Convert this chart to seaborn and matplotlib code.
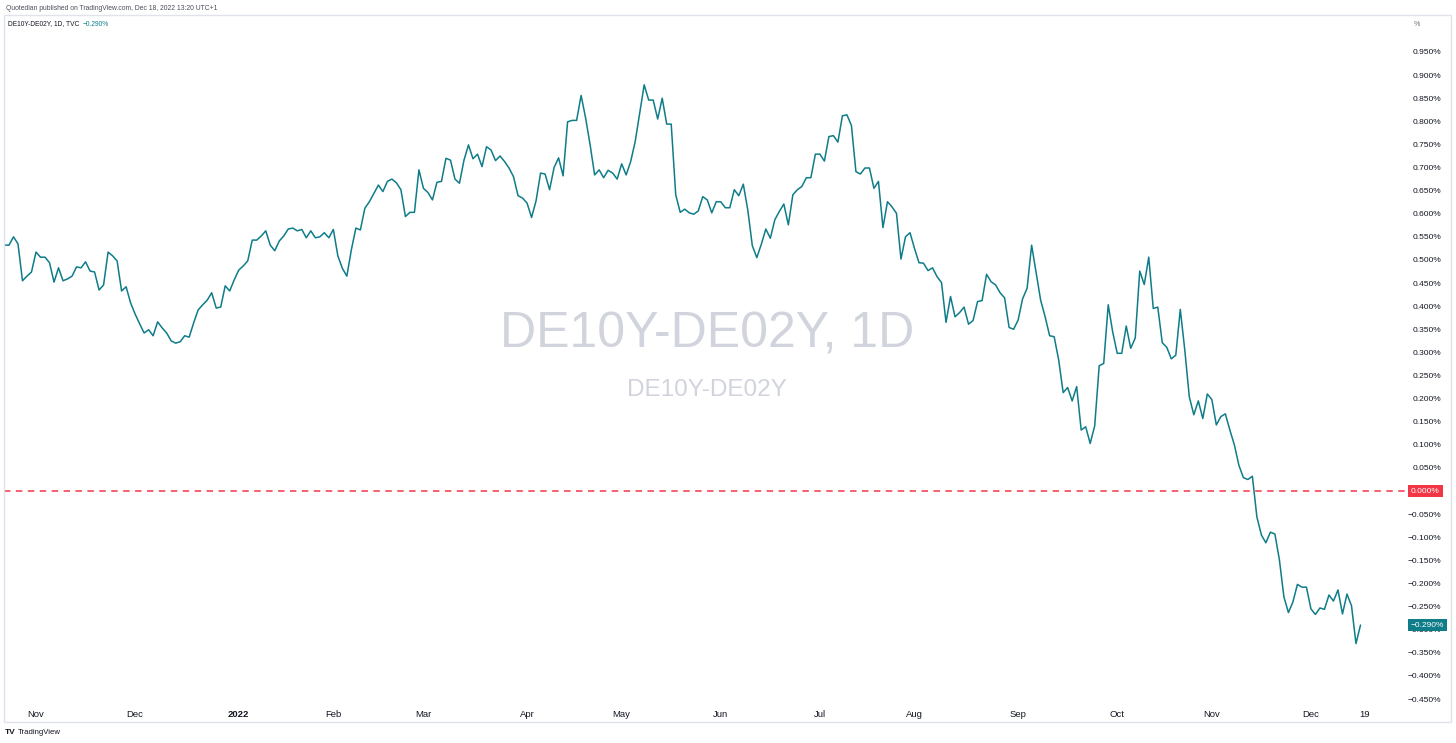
import numpy as np
import pandas as pd
import matplotlib
matplotlib.use("Agg")
import matplotlib.pyplot as plt
import matplotlib.transforms as mtransforms
from matplotlib.patches import Rectangle
import seaborn as sns

# ---------------- data ----------------
start_date = "2021-10-21"
spread_q4_2021 = [
    0.532, 0.532, 0.550, 0.535, 0.455, 0.465, 0.474, 0.517, 0.506, 0.506,
    0.494, 0.452, 0.483, 0.455, 0.459, 0.465, 0.485, 0.483, 0.496, 0.476,
    0.474, 0.435, 0.446, 0.517, 0.509, 0.498, 0.433, 0.442, 0.407, 0.383,
    0.362, 0.342, 0.349, 0.336, 0.366, 0.353, 0.342, 0.325, 0.320, 0.323,
    0.336, 0.333, 0.364, 0.392, 0.403, 0.413, 0.429, 0.396, 0.398, 0.444,
    0.433, 0.457]
spread_h1_2022 = [
    0.478, 0.487, 0.498, 0.543, 0.543, 0.552, 0.563, 0.532, 0.520, 0.541,
    0.552, 0.567, 0.569, 0.563, 0.566, 0.548, 0.563, 0.548, 0.550, 0.559,
    0.548, 0.566, 0.509, 0.482, 0.465, 0.522, 0.569, 0.565, 0.612, 0.626,
    0.644, 0.662, 0.648, 0.670, 0.675, 0.667, 0.652, 0.594, 0.603, 0.603,
    0.695, 0.655, 0.646, 0.630, 0.668, 0.670, 0.720, 0.716, 0.675, 0.666,
    0.716, 0.749, 0.719, 0.729, 0.702, 0.745, 0.738, 0.715, 0.725, 0.713,
    0.699, 0.680, 0.639, 0.634, 0.623, 0.592, 0.628, 0.688, 0.686, 0.652,
    0.700, 0.721, 0.682, 0.799, 0.802, 0.802, 0.856, 0.807, 0.749, 0.684,
    0.695, 0.678, 0.694, 0.688, 0.675, 0.708, 0.684, 0.713, 0.756, 0.818,
    0.879, 0.846, 0.846, 0.805, 0.850, 0.794, 0.794, 0.641, 0.603, 0.610,
    0.602, 0.599, 0.606, 0.637, 0.630, 0.602, 0.626, 0.626, 0.613, 0.613,
    0.652, 0.639, 0.664, 0.608, 0.531, 0.505, 0.534, 0.567, 0.547, 0.587,
    0.605, 0.621, 0.576, 0.641, 0.652, 0.659, 0.678, 0.678, 0.729]
spread_h2_2022 = [
    0.729, 0.714, 0.767, 0.769, 0.755, 0.812, 0.814, 0.791, 0.691, 0.686,
    0.699, 0.699, 0.655, 0.670, 0.570, 0.626, 0.615, 0.601, 0.502, 0.550,
    0.559, 0.525, 0.494, 0.493, 0.477, 0.483, 0.464, 0.451, 0.365, 0.421,
    0.377, 0.386, 0.398, 0.361, 0.369, 0.410, 0.412, 0.469, 0.453, 0.446,
    0.429, 0.418, 0.354, 0.350, 0.370, 0.416, 0.439, 0.532, 0.473, 0.413,
    0.377, 0.336, 0.334, 0.284, 0.213, 0.224, 0.195, 0.226, 0.132, 0.139,
    0.103, 0.141, 0.271, 0.276, 0.403, 0.344, 0.298, 0.298, 0.357, 0.309,
    0.331, 0.476, 0.447, 0.506, 0.395, 0.398, 0.321, 0.311, 0.286, 0.294,
    0.393, 0.305, 0.204, 0.165, 0.195, 0.157, 0.210, 0.198, 0.143, 0.161,
    0.167, 0.132, 0.100, 0.056, 0.029, 0.025, 0.032, -0.056, -0.095, -0.112,
    -0.089, -0.093, -0.149, -0.229, -0.263, -0.240, -0.202, -0.208, -0.208, -0.255,
    -0.267, -0.253, -0.256, -0.225, -0.238, -0.214, -0.266, -0.223, -0.248, -0.330,
    -0.290]

tick_dates = ["2021-11-01", "2021-12-01", "2022-01-03", "2022-02-01", "2022-03-01",
              "2022-04-01", "2022-05-02", "2022-06-01", "2022-07-01", "2022-08-01",
              "2022-09-01", "2022-10-03", "2022-11-01", "2022-12-01", "2022-12-19"]
tick_labels = ["Nov", "Dec", "2022", "Feb", "Mar", "Apr", "May", "Jun", "Jul", "Aug",
               "Sep", "Oct", "Nov", "Dec", "19"]
y_ticks = [round(v, 3) for v in np.arange(-0.45, 0.951, 0.05)]
last_value = -0.290
zero_level = 0.0

# ---------------- style ----------------
sns.set_theme(style="white")
plt.rcParams["font.family"] = ["Liberation Sans", "DejaVu Sans"]

LINE_C = "#0e7c89"
RED = "#f23645"
TXT = "#131722"
BORDER = "#e0e3eb"
WM = "#d1d4dc"

W, H = 1456, 743
fig = plt.figure(figsize=(W / 100, H / 100), dpi=100)
fig.patch.set_facecolor("white")

def fx(px):
    return px / W

def fy(py):
    return 1 - py / H

def fmt(v):
    return f"{v:.3f}%".replace("-", "\u2212")

# outer frame
fig.patches.append(Rectangle((fx(4), fy(722)), fx(1451) - fx(4), fy(15) - fy(722),
                             transform=fig.transFigure, fill=False,
                             edgecolor=BORDER, linewidth=1.0))

ax = fig.add_axes([fx(4), fy(705), fx(1405) - fx(4), fy(15) - fy(705)])
ax.set_facecolor("none")

values = spread_q4_2021 + spread_h1_2022 + spread_h2_2022
dates = pd.bdate_range(start=start_date, periods=len(values))
all_days = pd.bdate_range(start=start_date, end="2022-12-30")
df = pd.DataFrame({"idx": np.arange(len(values)), "date": dates, "value": values})

sns.lineplot(data=df, x="idx", y="value", ax=ax, color=LINE_C, linewidth=1.1)

ax.axhline(zero_level, color=RED, linewidth=1.1, linestyle=(0, (4.2, 3.6)), zorder=1)

# axes limits matching the screenshot scale
px_per_unit = (699 - 52) / 1.4
ax.set_ylim(-0.45 - (705 - 699) / px_per_unit, 0.95 + (52 - 15) / px_per_unit)
step = (1365 - 36) / 295.0
x0 = 36 - 7 * step
ax.set_xlim((4 - x0) / step, (1405 - x0) / step)

for s in ax.spines.values():
    s.set_visible(False)
ax.set_xlabel("")
ax.set_ylabel("")
ax.grid(False)

# x ticks
xpos = [all_days.get_loc(pd.Timestamp(d)) for d in tick_dates]
ax.set_xticks(xpos)
ax.set_xticklabels(tick_labels)
ax.tick_params(axis="x", length=0, pad=3.5, labelsize=6.8, labelcolor=TXT)
for lbl in ax.get_xticklabels():
    if lbl.get_text() == "2022":
        lbl.set_fontweight("bold")

# y ticks on the right
ax.yaxis.tick_right()
ax.set_yticks(y_ticks)
ax.set_yticklabels([fmt(v) if v != 0 else "0.000%" for v in y_ticks])
ax.tick_params(axis="y", length=0, pad=26, labelsize=6.0, labelcolor=TXT)
for lbl in ax.get_yticklabels():
    lbl.set_horizontalalignment("right")

# price labels (cover the tick labels at the same level)
trans = mtransforms.blended_transform_factory(ax.transAxes, ax.transData)
ax.text(1.0043, zero_level, "0.000%", transform=trans, ha="left", va="center",
        fontsize=6.0, color="white", clip_on=False, zorder=10,
        bbox=dict(boxstyle="square,pad=0.35", fc=RED, ec="none"))
ax.text(1.0043, last_value, fmt(last_value), transform=trans,
        ha="left", va="center", fontsize=6.0, color="white", clip_on=False, zorder=10,
        bbox=dict(boxstyle="square,pad=0.35", fc=LINE_C, ec="none"))

# watermark
fig.text(fx(707), fy(335), "DE10Y-DE02Y, 1D", ha="center", va="center",
         fontsize=36, color=WM, zorder=0)
fig.text(fx(707), fy(390), "DE10Y-DE02Y", ha="center", va="center",
         fontsize=17.5, color=WM, zorder=0)

# header
fig.text(fx(6), fy(8), "Quotedian published on TradingView.com, Dec 18, 2022 13:20 UTC+1",
         ha="left", va="center", fontsize=4.9, color="#4a4e59")
hdr = fig.text(fx(8), fy(24), "DE10Y-DE02Y, 1D, TVC  ", ha="left", va="center",
               fontsize=4.8, color=TXT)
fig.canvas.draw()
bb = hdr.get_window_extent()
fig.text(bb.x1 / W, fy(24), fmt(last_value), ha="left",
         va="center", fontsize=4.8, color=LINE_C)

# price-scale unit
fig.text(fx(1414), fy(25), "%", ha="left", va="center", fontsize=5.2, color="#6a6d78")

# footer logo
fig.text(fx(5), fy(733), "TV", ha="left", va="center", fontsize=6.0,
         fontweight="bold", color=TXT)
fig.text(fx(18), fy(733), "TradingView", ha="left", va="center", fontsize=5.6,
         color=TXT)

fig.savefig("out.png", dpi=100, facecolor="white")
